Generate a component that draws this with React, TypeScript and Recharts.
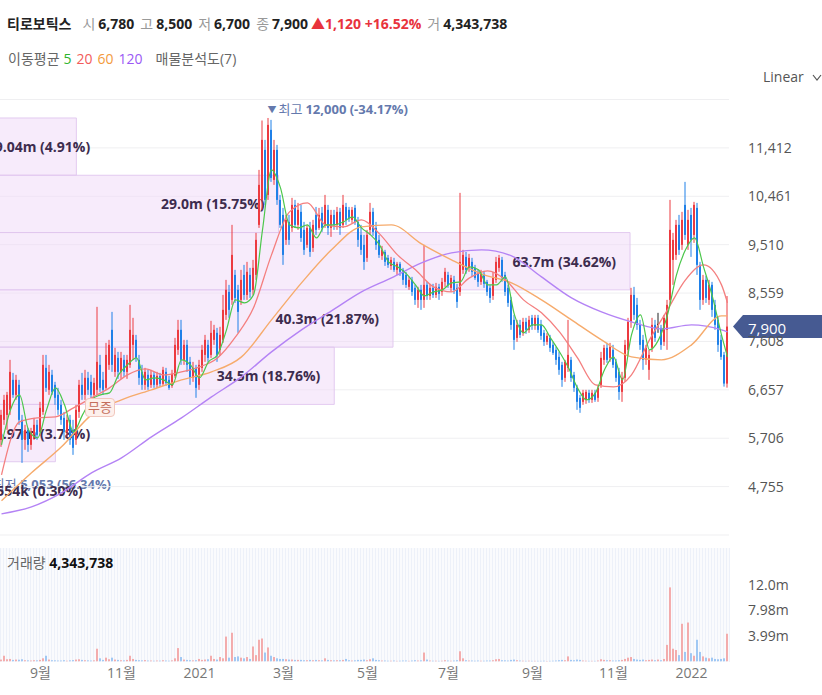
import React from "react";
import {
  ComposedChart,
  Bar,
  Line,
  XAxis,
  YAxis,
  CartesianGrid,
  ReferenceArea,
  ReferenceLine,
  ReferenceDot,
} from "recharts";

const FONT = '"Open Sans", "Noto Sans CJK KR", sans-serif';
const UP = "#ec3a40";
const DOWN = "#1f80e8";
const UP_VOL = "#f39a9a";
const DOWN_VOL = "#8cbcf2";

// daily candles [open, high, low, close], Aug 2020 -> Jan 2022
const candles: [number, number, number, number][] = [
  [5674, 6264, 5537, 6165], [6067, 6558, 5969, 6460], [6165, 6617, 5871, 6558], [6264, 7246, 6165, 7010], [6853, 6990, 6500, 6558],
  [6558, 6952, 6460, 6853], [6755, 6853, 5969, 6067], [6067, 6165, 5222, 5674], [5674, 5969, 5478, 5871], [5871, 5910, 5438, 5576],
  [5576, 5910, 5478, 5831], [5772, 6106, 5674, 5969], [5969, 6067, 5674, 5772], [5831, 6421, 5752, 6303], [6224, 7344, 6165, 7148],
  [7089, 7344, 6617, 6696], [6657, 7148, 6558, 7010], [6952, 7050, 6558, 6617], [6755, 6814, 6362, 6500], [6558, 6696, 6165, 6264],
  [6362, 6460, 5969, 6067], [6106, 6224, 5674, 5831], [5831, 6165, 5733, 6067], [6067, 6165, 5576, 5674], [5871, 6067, 5379, 5517],
  [5674, 6362, 5576, 6264], [6224, 6853, 6106, 6755], [6755, 6990, 6460, 6558], [6558, 7050, 6460, 6893], [6893, 7010, 6558, 6657],
  [6814, 6952, 6460, 6558], [6558, 6893, 6460, 6794], [6657, 8288, 6558, 7207], [7148, 7344, 6617, 6696], [6853, 7010, 6558, 6657],
  [6696, 7580, 6657, 7344], [7148, 7639, 7050, 7541], [7836, 8189, 7010, 7148], [7010, 7482, 6912, 7344], [7285, 7403, 6873, 7010],
  [7010, 7403, 6873, 7285], [7246, 7344, 6912, 7010], [7010, 7344, 6873, 7246], [7148, 8327, 7089, 7836], [7541, 8072, 7246, 7737],
  [7639, 7737, 7207, 7285], [7246, 7344, 6755, 6893], [7010, 7148, 6657, 6755], [6755, 7089, 6657, 7010], [6952, 7050, 6657, 6716],
  [6755, 7050, 6696, 6952], [6952, 7010, 6696, 6755], [6755, 7010, 6696, 6932], [6932, 6990, 6716, 6775], [6775, 7109, 6735, 7050],
  [7010, 7089, 6735, 6794], [6853, 6932, 6657, 6696], [6735, 7050, 6696, 6971], [6932, 7678, 6893, 7541], [7443, 8032, 7344, 7836],
  [7836, 8032, 7148, 7246], [7246, 7639, 7148, 7541], [7541, 7639, 7010, 7148], [7207, 7305, 6755, 6893], [6893, 7207, 6814, 7089],
  [7089, 7148, 6500, 6696], [6755, 7246, 6657, 7148], [7089, 7541, 7010, 7443], [7344, 7737, 7207, 7639], [7541, 7639, 7207, 7285],
  [7344, 8013, 7285, 7777], [7639, 7934, 7541, 7836], [7777, 7875, 7207, 7344], [7443, 7895, 7325, 7737], [7639, 8523, 7580, 8229],
  [8130, 8818, 8032, 8622], [8582, 8720, 8072, 8229], [8425, 9899, 8327, 9309], [8916, 9015, 8366, 8464], [8622, 8720, 7777, 8189],
  [8425, 9015, 8327, 8818], [8916, 9113, 8425, 8523], [8523, 9172, 8425, 8976], [8916, 9054, 8464, 8582], [8622, 9211, 8523, 9054],
  [8916, 9742, 8818, 9604], [9899, 10980, 9840, 10685], [10390, 11950, 10194, 11569], [11373, 11569, 10292, 10390], [10488, 12000, 10390, 11864],
  [11766, 11962, 10744, 10822], [10783, 11569, 10685, 11373], [11373, 11471, 10292, 10390], [10390, 10488, 9840, 9899], [10095, 10233, 9113, 9309],
  [9604, 10095, 9506, 9997], [9958, 10095, 9506, 9604], [9840, 10430, 9761, 10292], [10292, 10390, 9840, 9899], [9899, 10331, 9801, 10194],
  [10155, 10292, 9565, 9643], [9801, 9958, 9309, 9408], [9506, 9899, 9447, 9840], [9840, 9958, 9270, 9368], [9447, 9997, 9368, 9899],
  [10095, 10252, 9702, 9801], [9840, 10233, 9801, 10095], [10135, 10252, 9761, 9840], [9899, 10488, 9840, 10292], [10194, 10292, 9702, 9840],
  [9840, 10194, 9663, 10095], [10095, 10194, 9801, 9899], [9899, 10252, 9801, 10155], [10155, 10233, 9702, 9840], [9899, 10488, 9840, 10292],
  [10252, 10331, 9899, 9997], [10194, 10252, 9958, 10036], [9997, 10252, 9938, 10194], [10233, 10292, 9899, 9958], [9958, 10056, 9467, 9604],
  [9702, 9899, 9309, 9408], [9506, 9702, 9015, 9172], [9251, 9801, 9172, 9702], [9801, 10331, 9702, 10155], [10155, 10233, 9683, 9761],
  [9840, 9958, 9408, 9506], [9604, 9702, 9251, 9309], [9290, 9486, 9211, 9408], [9368, 9408, 9093, 9172], [9251, 9309, 9054, 9113],
  [9093, 9270, 9015, 9211], [9172, 9251, 8976, 9015], [9015, 9172, 8916, 9133], [9133, 9172, 8897, 8976], [9015, 9054, 8720, 8818],
  [8916, 8976, 8661, 8720], [8681, 8877, 8622, 8818], [8818, 8877, 8504, 8582], [8661, 8720, 8327, 8425], [8425, 8681, 8268, 8622],
  [8622, 8720, 8229, 8425], [8425, 9506, 8268, 8720], [8720, 8779, 8425, 8504], [8504, 8740, 8425, 8661], [8661, 8740, 8464, 8523],
  [8523, 8759, 8464, 8681], [8681, 8740, 8425, 8543], [8582, 8857, 8504, 8779], [8779, 9054, 8681, 8976], [8916, 8976, 8661, 8720],
  [8661, 8916, 8582, 8857], [8818, 8897, 8543, 8622], [8661, 8740, 8268, 8386], [8582, 10528, 8504, 9172], [9015, 9408, 8936, 9309],
  [9270, 9368, 8936, 9015], [9054, 9329, 8976, 9251], [9172, 9251, 8877, 8976], [9054, 9113, 8818, 8857], [8976, 9015, 8681, 8779],
  [8779, 9015, 8720, 8936], [8936, 8995, 8661, 8740], [8779, 8818, 8504, 8582], [8661, 8720, 8366, 8464], [8504, 8976, 8425, 8857],
  [8818, 9270, 8759, 9172], [9054, 9309, 8976, 9251], [9211, 9270, 8779, 8857], [8916, 8976, 8504, 8582], [8661, 8720, 8288, 8366],
  [8425, 8484, 7836, 7934], [8032, 8130, 7443, 7639], [7678, 8032, 7600, 7934], [7934, 8032, 7678, 7737], [7777, 8072, 7718, 7993],
  [7993, 8072, 7757, 7836], [7836, 8111, 7777, 8032], [8072, 8130, 7836, 7914], [7914, 8130, 7836, 8072], [8072, 8130, 7777, 7836],
  [7934, 8032, 7639, 7718], [7777, 7836, 7521, 7600], [7600, 7777, 7541, 7718], [7678, 7737, 7403, 7482], [7541, 7600, 7344, 7383],
  [7443, 7502, 7148, 7246], [7305, 7403, 6952, 7050], [7148, 7207, 6716, 6853], [6893, 7246, 6814, 7207], [7089, 8032, 7010, 7344],
  [7246, 7305, 6814, 6893], [6952, 7010, 6617, 6696], [6696, 6755, 6264, 6421], [6500, 6558, 6205, 6303], [6421, 6657, 6362, 6598],
  [6460, 6657, 6382, 6617], [6598, 6657, 6401, 6460], [6460, 6657, 6401, 6598], [6598, 6657, 6421, 6460], [6500, 6755, 6421, 6696],
  [6755, 7403, 6696, 7285], [7246, 7541, 7148, 7482], [7482, 7580, 7187, 7246], [7285, 7580, 7207, 7502], [7443, 7541, 7089, 7148],
  [7207, 7266, 6814, 6893], [7010, 7089, 6460, 6617], [6617, 7010, 6421, 6893], [6893, 7639, 6814, 7541], [7443, 8072, 7344, 7993],
  [7993, 8661, 7875, 8523], [8523, 8681, 8032, 8130], [8327, 8464, 7836, 7934], [7934, 8032, 7443, 7541], [7639, 7737, 7050, 7246],
  [7246, 7541, 7148, 7482], [7050, 7443, 6853, 7344], [7482, 8072, 7403, 7934], [7934, 8032, 7600, 7678], [7954, 8170, 7777, 7954],
  [7875, 7934, 7443, 7541], [7600, 8130, 7521, 8072], [7836, 8425, 7443, 8327], [8425, 10390, 8327, 9801], [9211, 9742, 8720, 9604],
  [9309, 9997, 9211, 9899], [9899, 10095, 9309, 9408], [9506, 10155, 9408, 9997], [10292, 10744, 9604, 9702], [9506, 10194, 9408, 9997],
  [10095, 10233, 9270, 9604], [9702, 10351, 9545, 10292], [10233, 10331, 8916, 9113], [9113, 9172, 8229, 8425], [8425, 8916, 8327, 8818],
  [8818, 8897, 8366, 8464], [8425, 8818, 8327, 8720], [8720, 8779, 8091, 8229], [8327, 8425, 7836, 7934], [8032, 8091, 7403, 7541],
  [7639, 7737, 7246, 7305], [7344, 7403, 6720, 6780], [6780, 8500, 6700, 7900],
];

// volume per candle, thousands of shares
const volumesK = [
  300, 900, 350, 400, 250, 300, 280, 350, 200, 180,
  150, 200, 180, 250, 500, 900, 300, 200, 180, 150,
  150, 200, 120, 180, 220, 300, 350, 250, 200, 180,
  150, 180, 2000, 500, 250, 600, 350, 600, 300, 250,
  200, 180, 250, 900, 400, 250, 200, 180, 220, 150,
  150, 120, 150, 130, 200, 150, 120, 180, 500, 2100,
  700, 300, 250, 200, 180, 200, 400, 250, 300, 350,
  900, 400, 300, 700, 500, 3900, 600, 4500, 700, 800,
  600, 500, 700, 400, 2350, 1000, 3400, 3600, 1400, 2200,
  900, 700, 500, 400, 400, 350, 300, 300, 250, 250,
  250, 200, 200, 250, 200, 250, 200, 180, 500, 250,
  200, 180, 200, 200, 250, 400, 200, 150, 180, 250,
  250, 300, 200, 350, 500, 250, 200, 150, 150, 120,
  120, 150, 100, 120, 150, 150, 100, 150, 200, 150,
  180, 1400, 300, 150, 120, 120, 100, 120, 200, 150,
  120, 150, 200, 1600, 500, 200, 150, 150, 120, 150,
  120, 120, 150, 150, 200, 350, 400, 200, 180, 150,
  250, 300, 200, 150, 120, 100, 120, 100, 100, 100,
  100, 120, 80, 100, 120, 150, 200, 250, 200, 800,
  250, 200, 300, 250, 150, 120, 100, 100, 100, 150,
  350, 250, 200, 200, 150, 150, 200, 250, 400, 600,
  700, 400, 300, 250, 300, 200, 250, 300, 200, 300,
  200, 400, 2600, 11600, 2000, 1800, 1000, 5900, 1500, 6100,
  1300, 900, 3400, 1500, 800, 600, 500, 600, 400, 350,
  400, 500, 4343.738,
];

// moving averages (every 3rd / 6th / 10th candle, last = final candle)
const ma5 = [
  5576, 6264, 6558, 5871, 5713, 6264, 6696, 6362, 5831, 6165,
  6460, 6558, 6598, 6952, 7148, 7285, 6853, 6893, 6853, 6755,
  7246, 7148, 6893, 7207, 7344, 7836, 8425, 8366, 8523, 9801,
  10980, 10626, 9899, 9840, 9899, 9643, 9899, 9899, 9958, 10056,
  9840, 9702, 9506, 9172, 9074, 8936, 8720, 8504, 8582, 8622,
  8759, 8779, 9074, 9015, 8720, 8720, 8877, 8130, 7777, 7934,
  7934, 7678, 7403, 7089, 6696, 6460, 6598, 7050, 7305, 6853,
  7737, 8130, 7443, 7639, 8130, 8916, 9408, 9643, 9074, 8484,
  7737, 7305,
];
const ma20 = [
  4986, 6028, 6106, 6126, 6303, 6499, 6696, 6952, 7069, 6952,
  7010, 7108, 7285, 7698, 8268, 9309, 10154, 10331, 9899, 9860,
  9997, 9722, 9309, 9015, 8681, 8582, 8857, 8995, 8818, 8425,
  8170, 7796, 7285, 6755, 6716, 6952, 7639, 8229, 8818, 9113,
  8720, 8366,
];
const ma60 = [
  4476, 5026, 5537, 6165, 6460, 6657, 6853, 7010, 7305, 8032,
  8759, 9408, 9860, 9899, 9526, 9211, 8936, 8759, 8425, 8032,
  7639, 7305, 7246, 7541, 8111, 8111,
];
const ma120 = [
  4220, 4358, 4633, 5026, 5320, 5733, 6106, 6519, 6912, 7403,
  7836, 8209, 8582, 8857, 9152, 9349, 9408, 9290, 8877, 8465,
  8189, 7993, 7855, 7934, 7836, 7796,
];

const priceTicks = [4755, 5706, 6657, 7608, 8559, 9510, 10461, 11412];
const volumeTicks = [3990000, 7980000, 11970000];
const monthTickIdx = [13, 40, 66, 94, 122, 149, 177, 204, 230];
const monthLabels = ["9월", "11월", "2021", "3월", "5월", "7월", "9월", "11월", "2022"];

// volume profile (매물분석도): 7 price bands, volume in millions
const profileEdges = [12000, 10874, 9748, 8622, 7496, 6370, 5244, 4118];
const profileVolM = [9.04, 29.0, 63.7, 40.3, 34.5, 6.97, 0.554];
const profileLabels = [
  "9.04m (4.91%)",
  "29.0m (15.75%)",
  "63.7m (34.62%)",
  "40.3m (21.87%)",
  "34.5m (18.76%)",
  "6.97m (3.78%)",
  "554k (0.30%)",
];
// profile volume shown at the left and right edge of the plot
const profileSpan = [1.5, 73.47];

const periodLow = 5053;

const N = candles.length;
function sparse(values: number[], step: number) {
  const out: (number | null)[] = new Array(N).fill(null);
  values.forEach((v, k) => {
    out[Math.min(k * step, N - 1)] = v;
  });
  return out;
}
const ma5Col = sparse(ma5, 3);
const ma20Col = sparse(ma20, 6);
const ma60Col = sparse(ma60, 10);
const ma120Col = sparse(ma120, 10);

const rows = candles.map(([o, h, l, c], i) => ({
  i,
  o,
  h,
  l,
  c,
  range: [l, h],
  vol: volumesK[i] * 1000,
  ma5: ma5Col[i],
  ma20: ma20Col[i],
  ma60: ma60Col[i],
  ma120: ma120Col[i],
}));

const X_DOMAIN = [-0.5, N - 0.5];
// profile volume -> candle-index units on the shared x axis
const profileToX = (v: number) =>
  X_DOMAIN[0] + ((v - profileSpan[0]) / (profileSpan[1] - profileSpan[0])) * (X_DOMAIN[1] - X_DOMAIN[0]);

const last = candles[N - 1];
const prevClose = candles[N - 2][3];
const change = last[3] - prevClose;
const changePct = (change / prevClose) * 100;
const lastVol = Math.round(volumesK[N - 1] * 1000);
const highIdx = candles.reduce((b, c, i) => (c[1] > candles[b][1] ? i : b), 0);
const periodHigh = candles[highIdx][1];
const fmt = (v: number) => v.toLocaleString("en-US");

function Candle(props: any) {
  const { x, y, width, height, payload } = props;
  if (!payload) return null;
  const { o, h, l, c } = payload;
  const span = h - l;
  const k = span > 0 ? height / span : 0;
  const cx = x + width / 2;
  const yO = y + (h - o) * k;
  const yC = y + (h - c) * k;
  const color = c > o ? UP : c < o ? DOWN : "#222";
  const top = Math.min(yO, yC);
  const bh = Math.max(Math.abs(yO - yC), 1);
  return (
    <g>
      <line x1={cx} x2={cx} y1={y} y2={y + height} stroke={color} strokeWidth={1} />
      <rect x={cx - 1} y={top} width={2} height={bh} fill={color} />
    </g>
  );
}

function VolBar(props: any) {
  const { x, y, width, height, payload } = props;
  if (!payload || !(height > 0)) return null;
  const color = payload.c >= payload.o ? UP_VOL : DOWN_VOL;
  return <rect x={x + width / 2 - 0.8} y={y} width={1.6} height={height} fill={color} />;
}

function ProfileLabel(props: any) {
  const { viewBox, text } = props;
  if (!viewBox) return null;
  const w = text.length * 7.4;
  const end = Math.max(viewBox.x + viewBox.width - 14, w - 6);
  return (
    <text
      x={end}
      y={viewBox.y + viewBox.height / 2}
      textAnchor="end"
      dominantBaseline="central"
      fontSize={14}
      fontWeight={700}
      fill="#3d2c4e"
      fontFamily={FONT}
    >
      {text}
    </text>
  );
}

function PriceBadge(props: any) {
  const vb = props.viewBox;
  if (!vb) return null;
  const x0 = vb.x + vb.width;
  const y = vb.y;
  return (
    <g>
      <polygon
        points={`${x0 + 4},${y} ${x0 + 14},${y - 11.5} 822,${y - 11.5} 822,${y + 11.5} ${x0 + 14},${y + 11.5}`}
        fill="#465a92"
      />
      <text x={x0 + 19} y={y + 1} dominantBaseline="central" fill="#fff" fontSize={15} fontFamily={FONT}>
        {fmt(last[3])}
      </text>
    </g>
  );
}

function HighMark(props: any) {
  const { cx, cy } = props;
  const pct = ((last[3] / periodHigh - 1) * 100).toFixed(2);
  return (
    <text x={cx - 1} y={cy - 9} dominantBaseline="central" fontSize={13} fontFamily={FONT} fill="#6479ad">
      <tspan fontSize={9}>▼</tspan>
      <tspan dx={2}>최고</tspan>
      <tspan dx={3} fontWeight={700}>{`${fmt(periodHigh)} (${pct}%)`}</tspan>
    </text>
  );
}

const gray = { color: "#999", fontWeight: 400 };

export default function App() {
  const lowPct = ((last[3] / periodLow - 1) * 100).toFixed(2);
  return (
    <div
      style={{
        position: "absolute",
        left: 0,
        top: 0,
        width: 822,
        height: 695,
        background: "#fff",
        fontFamily: FONT,
        overflow: "hidden",
      }}
    >
      {/* header */}
      <div
        style={{
          position: "absolute",
          left: 7,
          top: 14,
          fontSize: 14,
          lineHeight: "20px",
          fontWeight: 700,
          color: "#222",
          whiteSpace: "nowrap",
        }}
      >
        <span>티로보틱스</span>
        <span style={{ ...gray, marginLeft: 11 }}>시</span>
        <span style={{ marginLeft: 3 }}>{fmt(last[0])}</span>
        <span style={{ ...gray, marginLeft: 6 }}>고</span>
        <span style={{ marginLeft: 3 }}>{fmt(last[1])}</span>
        <span style={{ ...gray, marginLeft: 6 }}>저</span>
        <span style={{ marginLeft: 3 }}>{fmt(last[2])}</span>
        <span style={{ ...gray, marginLeft: 6 }}>종</span>
        <span style={{ marginLeft: 3 }}>{fmt(last[3])}</span>
        <span style={{ color: "#e8333c", marginLeft: 3 }}>
          ▲{fmt(change)} +{changePct.toFixed(2)}%
        </span>
        <span style={{ ...gray, marginLeft: 6 }}>거</span>
        <span style={{ marginLeft: 3 }}>{fmt(lastVol)}</span>
      </div>
      <div
        style={{
          position: "absolute",
          left: 8,
          top: 49,
          fontSize: 14,
          lineHeight: "20px",
          color: "#666",
          whiteSpace: "nowrap",
        }}
      >
        <span>이동평균</span>
        <span style={{ color: "#2db52d", marginLeft: 4 }}>5</span>
        <span style={{ color: "#f25b5b", marginLeft: 5 }}>20</span>
        <span style={{ color: "#f39a3c", marginLeft: 5 }}>60</span>
        <span style={{ color: "#9b59f5", marginLeft: 5 }}>120</span>
        <span style={{ marginLeft: 13 }}>매물분석도(7)</span>
      </div>
      <div style={{ position: "absolute", left: 763, top: 67, fontSize: 14, lineHeight: "20px", color: "#555" }}>
        Linear
        <svg width="10" height="8" style={{ marginLeft: 8 }}>
          <polyline points="1,1 5,6 9,1" fill="none" stroke="#555" strokeWidth="1.2" />
        </svg>
      </div>

      {/* period low label (behind chart) */}
      <div
        style={{
          position: "absolute",
          right: 822 - 111,
          top: 475,
          fontSize: 13,
          lineHeight: "18px",
          color: "#6479ad",
          whiteSpace: "nowrap",
        }}
      >
        <span style={{ fontSize: 9 }}>▲</span>최저 <b>{fmt(periodLow)} ({lowPct}%)</b>
      </div>

      {/* price pane */}
      <div style={{ position: "absolute", left: 0, top: 0 }}>
        <ComposedChart
          width={822}
          height={545}
          data={rows}
          margin={{ top: 99.5, right: 0, bottom: 10, left: 0 }}
        >
          <CartesianGrid vertical={false} stroke="#efeff1" />
          <XAxis dataKey="i" type="number" domain={X_DOMAIN} allowDataOverflow hide />
          <YAxis
            orientation="right"
            width={93}
            domain={[3804, 12363]}
            allowDataOverflow
            ticks={priceTicks}
            tickFormatter={fmt}
            axisLine={false}
            tickLine={false}
            tickSize={0}
            tickMargin={19}
            tick={{ fill: "#555", fontSize: 14, fontFamily: FONT }}
          />
          {profileVolM.map((v, k) => (
            <ReferenceArea
              key={k}
              x1={profileToX(0)}
              x2={profileToX(v)}
              y1={profileEdges[k + 1]}
              y2={profileEdges[k]}
              ifOverflow="hidden"
              fill="#efd8f8"
              fillOpacity={0.5}
              stroke="#e0c6ee"
              strokeOpacity={0.9}
              label={<ProfileLabel text={profileLabels[k]} />}
            />
          ))}
          <Bar dataKey="range" barSize={2} shape={Candle} isAnimationActive={false} />
          <Line type="monotone" dataKey="ma120" stroke="#b483f5" strokeWidth={1.4} dot={false} connectNulls isAnimationActive={false} />
          <Line type="monotone" dataKey="ma60" stroke="#f6ab6c" strokeWidth={1.4} dot={false} connectNulls isAnimationActive={false} />
          <Line type="monotone" dataKey="ma20" stroke="#f47f7f" strokeWidth={1.3} dot={false} connectNulls isAnimationActive={false} />
          <Line type="monotone" dataKey="ma5" stroke="#4cc74c" strokeWidth={1.2} dot={false} connectNulls isAnimationActive={false} />
          <ReferenceDot x={highIdx} y={periodHigh} r={0} ifOverflow="visible" shape={HighMark} />
          <ReferenceLine y={last[3]} stroke="none" ifOverflow="visible" label={<PriceBadge />} />
        </ComposedChart>
      </div>

      {/* bonus issue marker */}
      <div
        style={{
          position: "absolute",
          left: 85,
          top: 398,
          width: 30,
          height: 19,
          boxSizing: "border-box",
          border: "1px solid #f1c7bd",
          borderRadius: 4,
          background: "#fdf0ec",
          color: "#c46e5c",
          fontSize: 13,
          lineHeight: "17px",
          textAlign: "center",
        }}
      >
        무증
      </div>

      {/* volume pane */}
      <div
        style={{
          position: "absolute",
          left: 0,
          top: 548,
          width: 730,
          height: 114,
          background:
            "repeating-linear-gradient(90deg, #edf1f9 0px, #edf1f9 1px, #fafbfd 1px, #fafbfd 3px)",
        }}
      />
      <div
        style={{
          position: "absolute",
          left: 7,
          top: 553,
          fontSize: 14,
          lineHeight: "20px",
          color: "#666",
          whiteSpace: "nowrap",
        }}
      >
        거래량 <b style={{ color: "#111" }}>{fmt(lastVol)}</b>
      </div>
      <div style={{ position: "absolute", left: 0, top: 540 }}>
        <ComposedChart
          width={822}
          height={155}
          data={rows}
          margin={{ top: 8, right: 0, bottom: 0, left: 0 }}
        >
          <XAxis
            dataKey="i"
            type="number"
            domain={X_DOMAIN}
            allowDataOverflow
            ticks={monthTickIdx}
            interval={0}
            tickFormatter={(v: number) => monthLabels[monthTickIdx.indexOf(v)] ?? ""}
            axisLine={false}
            tickLine={false}
            tickSize={0}
            height={33.5}
            tickMargin={7}
            tick={{ fill: "#777", fontSize: 14, fontFamily: FONT }}
          />
          <YAxis
            orientation="right"
            width={93}
            domain={[0, 17760000]}
            allowDataOverflow
            ticks={volumeTicks}
            tickFormatter={(v: number) => `${(v / 1e6).toPrecision(3)}m`}
            axisLine={false}
            tickLine={false}
            tickSize={0}
            tickMargin={19}
            tick={{ fill: "#555", fontSize: 14, fontFamily: FONT }}
          />
          <Bar dataKey="vol" barSize={2} shape={VolBar} isAnimationActive={false} />
        </ComposedChart>
      </div>
    </div>
  );
}
